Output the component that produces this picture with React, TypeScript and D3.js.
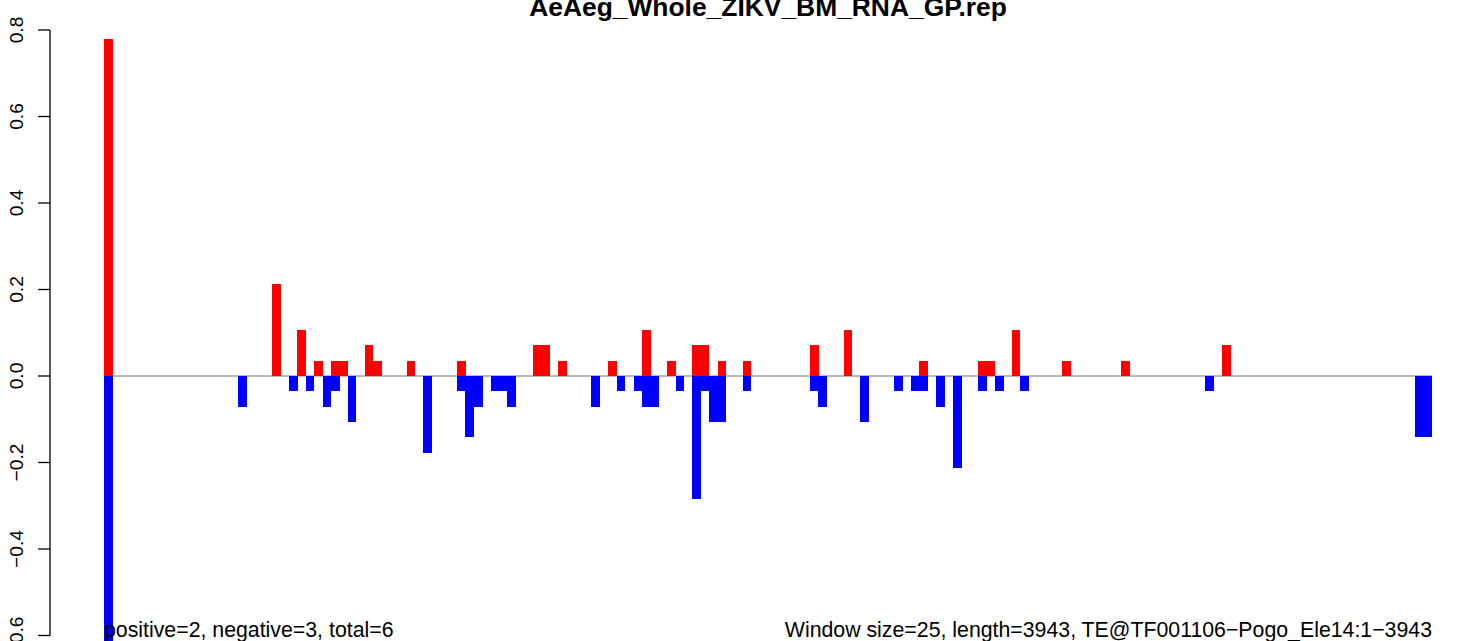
import React from "react";
import * as d3 from "d3";

const TITLE = "AeAeg_Whole_ZIKV_BM_RNA_GP.rep";
const LEFT_NOTE = "positive=2, negative=3, total=6";
const RIGHT_NOTE = "Window size=25, length=3943, TE@TF001106\u2212Pogo_Ele14:1\u22123943";

const N_WINDOWS = 158;

// sparse positive-strand windows (index, value)
const posBins = [0, 20, 23, 25, 27, 28, 31, 32, 36, 42, 51, 52, 54, 60, 64, 67, 70, 71, 73, 76, 84, 88, 97, 104, 105, 108, 114, 121, 133];
const posValues = [0.78, 0.213, 0.106, 0.035, 0.035, 0.035, 0.071, 0.035, 0.035, 0.035, 0.071, 0.071, 0.035, 0.035, 0.106, 0.035, 0.071, 0.071, 0.035, 0.035, 0.071, 0.106, 0.035, 0.035, 0.035, 0.106, 0.035, 0.035, 0.071];

// sparse negative-strand windows (index, value)
const negBins = [0, 16, 22, 24, 26, 27, 29, 38, 42, 43, 44, 46, 47, 48, 58, 61, 63, 64, 65, 68, 70, 71, 72, 73, 76, 84, 85, 90, 94, 96, 97, 99, 101, 104, 106, 109, 131, 156, 157];
const negValues = [-0.67, -0.071, -0.035, -0.035, -0.071, -0.035, -0.106, -0.177, -0.035, -0.142, -0.071, -0.035, -0.035, -0.071, -0.071, -0.035, -0.035, -0.071, -0.071, -0.035, -0.284, -0.035, -0.106, -0.106, -0.035, -0.035, -0.071, -0.106, -0.035, -0.035, -0.035, -0.071, -0.213, -0.035, -0.035, -0.035, -0.035, -0.142, -0.142];

const yTicks = [-0.6, -0.4, -0.2, 0.0, 0.2, 0.4, 0.6, 0.8];

const W = 1466;
const H = 641;
const FONT = "'Liberation Sans', Arial, Helvetica, sans-serif";

export default function App() {
  const x = d3
    .scaleBand<number>()
    .domain(d3.range(N_WINDOWS))
    .range([104, 1432])
    .paddingInner(0)
    .paddingOuter(0);
  const y = d3.scaleLinear().domain([-0.6, 0.8]).range([635.5, 30]);
  const fmt = d3.format(".1f");
  const y0 = y(0);

  const posBars = posBins.map((b, i) => ({ b, v: posValues[i] }));
  const negBars = negBins.map((b, i) => ({ b, v: negValues[i] }));

  return (
    <svg
      width={W}
      height={H}
      style={{ position: "absolute", left: 0, top: 0, background: "#fff", fontFamily: FONT }}
    >
      <rect x={0} y={0} width={W} height={H} fill="#fff" />
      <text x={(x.range()[0] + x.range()[1]) / 2} y={16} textAnchor="middle" fontWeight="bold" fontSize={26.4} fill="#000">
        {TITLE}
      </text>

      {/* baseline */}
      <line x1={x.range()[0]} x2={x.range()[1]} y1={y0} y2={y0} stroke="#a0a0a0" strokeWidth={1.6} />

      {posBars.map((d) => (
        <rect
          key={"p" + d.b}
          x={x(d.b)}
          width={x.bandwidth() + 0.3}
          y={y(d.v)}
          height={y0 - y(d.v)}
          fill="#ff0000"
          shapeRendering="crispEdges"
        />
      ))}
      {negBars.map((d) => (
        <rect
          key={"n" + d.b}
          x={x(d.b)}
          width={x.bandwidth() + 0.3}
          y={y0}
          height={y(d.v) - y0}
          fill="#0000ff"
          shapeRendering="crispEdges"
        />
      ))}

      {/* y axis */}
      <g>
        <line x1={50} x2={50} y1={y(yTicks[0])} y2={y(yTicks[yTicks.length - 1])} stroke="#000" strokeWidth={1.3} />
        {yTicks.map((t) => (
          <g key={t}>
            <line x1={38} x2={50} y1={y(t)} y2={y(t)} stroke="#000" strokeWidth={1.3} />
            <text
              transform={`translate(22.5, ${y(t)}) rotate(-90)`}
              textAnchor="middle"
              fontSize={19.2}
              fill="#000"
            >
              {fmt(t)}
            </text>
          </g>
        ))}
      </g>

      <text x={104} y={637} fontSize={21.3} fill="#000" textAnchor="start">
        {LEFT_NOTE}
      </text>
      <text x={1432} y={637} fontSize={21.3} fill="#000" textAnchor="end">
        {RIGHT_NOTE}
      </text>
    </svg>
  );
}
